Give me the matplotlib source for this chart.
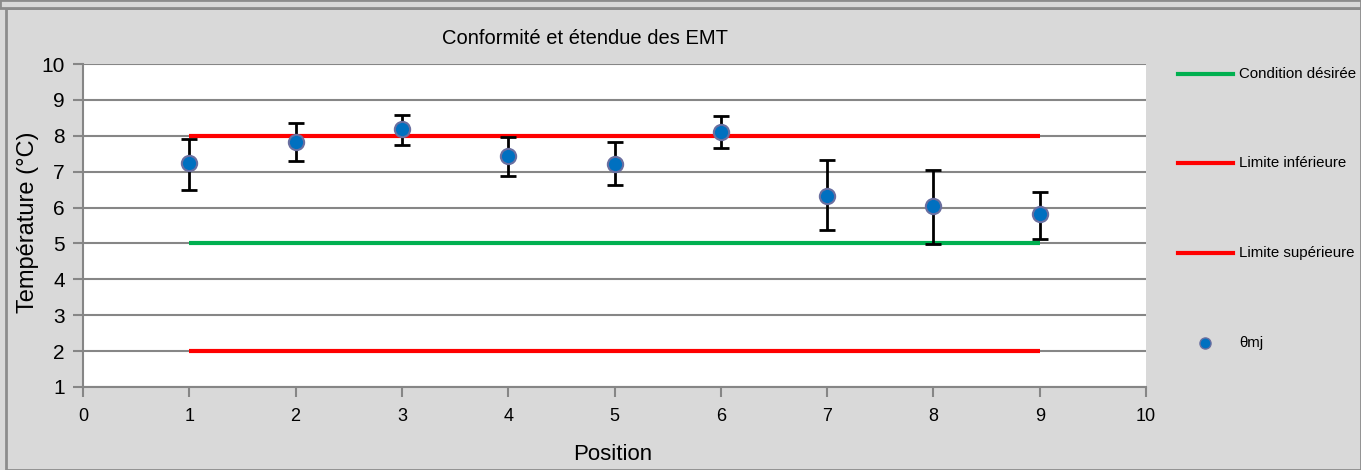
import matplotlib
matplotlib.use("Agg")
import matplotlib.pyplot as plt
from matplotlib.patches import Rectangle
from matplotlib.lines import Line2D

positions = [1, 2, 3, 4, 5, 6, 7, 8, 9]
theta_mj = [7.24, 7.84, 8.19, 7.44, 7.22, 8.10, 6.32, 6.03, 5.81]
err_top = [7.91, 8.36, 8.58, 7.96, 7.84, 8.54, 7.33, 7.06, 6.44]
err_bot = [6.49, 7.30, 7.74, 6.88, 6.62, 7.65, 5.38, 4.99, 5.11]
cond_desiree = [5] * 9
lim_inf = [8] * 9
lim_sup = [2] * 9
legend_labels = ["Condition désirée", "Limite inférieure", "Limite supérieure", "θmj"]

plt.rcParams['font.family'] = ['Liberation Sans', 'DejaVu Sans']
W, H = 1361, 470
fig = plt.figure(figsize=(W / 100, H / 100), dpi=100)
fig.patch.set_facecolor('#D9D9D9')

# outer frame
fig.add_artist(Rectangle((6 / W, 0), (W - 6) / W, (H - 8) / H, transform=fig.transFigure,
                         fill=False, edgecolor='#8C8C8C', lw=2))
fig.add_artist(Rectangle((0, (H - 8) / H), 1, 8 / H, transform=fig.transFigure,
                         facecolor='#D9D9D9', edgecolor='#8C8C8C', lw=2))

ax = fig.add_axes([83 / W, (H - 387) / H, (1146 - 83) / W, (387 - 64) / H])
ax.set_facecolor('white')
ax.set_xlim(0, 10)
ax.set_ylim(1, 10)
ax.set_xticks(range(0, 11))
ax.set_yticks(range(1, 11))
ax.yaxis.grid(True, color='#868686', lw=1.5)
ax.set_axisbelow(True)
for s in ['top', 'right']:
    ax.spines[s].set_visible(False)
for s in ['left', 'bottom']:
    ax.spines[s].set_color('#868686')
    ax.spines[s].set_linewidth(1.5)
ax.tick_params(axis='y', colors='#868686', length=7, width=1.5, labelsize=15, labelcolor='black', pad=6)
ax.tick_params(axis='x', colors='#868686', length=7, width=1.5, labelsize=13, labelcolor='black', pad=8)

ax.plot(positions, lim_inf, color='#FF0000', lw=3, solid_capstyle='butt')
ax.plot(positions, cond_desiree, color='#00B050', lw=3, solid_capstyle='butt')
ax.plot(positions, lim_sup, color='#FF0000', lw=3, solid_capstyle='butt')

yerr_low = [m - b for m, b in zip(theta_mj, err_bot)]
yerr_high = [t - m for m, t in zip(theta_mj, err_top)]
ax.errorbar(positions, theta_mj, yerr=[yerr_low, yerr_high], fmt='none', ecolor='black',
            elinewidth=2, capsize=6, capthick=2, zorder=3)
ax.plot(positions, theta_mj, 'o', color='#0070C0', markeredgecolor='#6A6FA0',
        markeredgewidth=1.5, markersize=11, zorder=4, clip_on=False)

fig.text(585 / W, 1 - 38 / H, "Conformité et étendue des EMT", ha='center', va='center', fontsize=14.5)
fig.text(28 / W, 1 - 222 / H, "Température (°C)", ha='center', va='center', rotation=90, fontsize=17)
fig.text(613 / W, 1 - 455 / H, "Position", ha='center', va='center', fontsize=16)

# legend
leg_y = [74, 163, 253, 343]
leg_colors = ['#00B050', '#FF0000', '#FF0000']
for i, lab in enumerate(legend_labels):
    y = 1 - leg_y[i] / H
    if i < 3:
        fig.add_artist(Line2D([1178 / W, 1233 / W], [y, y], transform=fig.transFigure,
                              color=leg_colors[i], lw=3))
    else:
        fig.add_artist(Line2D([1205 / W], [y], transform=fig.transFigure, marker='o',
                              color='#0070C0', markeredgecolor='#6A6FA0', markersize=8))
    fig.text(1239 / W, y, lab, ha='left', va='center', fontsize=10.8)

fig.savefig('out.png', dpi=100, facecolor=fig.get_facecolor())
